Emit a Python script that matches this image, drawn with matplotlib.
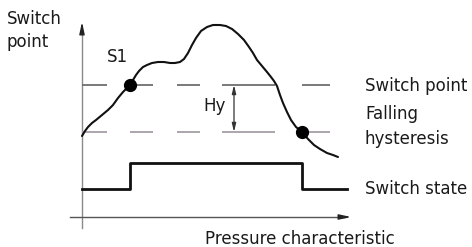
import matplotlib.pyplot as plt

plt.rcParams['font.family'] = ['DejaVu Sans']

# pressure curve (x: pressure, y: signal; screen units, y down)
curve_x = [82, 85, 88, 92, 96, 102, 108, 113, 118, 123, 127, 130, 133, 136, 139, 143, 147,
           152, 158, 164, 170, 175, 180, 184, 188, 192, 196, 201, 207, 213, 220, 226, 232,
           238, 244, 249, 253, 257, 262, 267, 271, 274, 277, 280, 283, 287, 291, 296, 302,
           308, 314, 320, 327, 333, 338]
curve_y = [136, 131, 127, 123, 120, 115, 110, 105, 98, 92, 88, 85, 80, 75, 71, 67, 65,
           63, 62, 62, 63, 63, 62, 59, 53, 45, 38, 31, 27, 25, 25, 26, 29,
           34, 40, 47, 53, 60, 66, 72, 77, 81, 86, 95, 103, 112, 120, 127, 132,
           139, 145, 149, 153, 155, 157]

switch_level = 85
hyst_level = 132
dash_spans = [(82, 107), (130, 153), (177, 200), (222, 275), (302, 330)]

state_x = [82, 130, 130, 302, 302, 347]
state_y = [189, 189, 163, 163, 189, 189]

hits_x = [130, 302]
hits_y = [85, 132]

fig = plt.figure(figsize=(4.72, 2.47), dpi=100)
ax = fig.add_axes([0, 0, 1, 1])
ax.set_xlim(0, 472)
ax.set_ylim(247, 0)
ax.axis('off')

# axes with arrows
ax.plot([82, 82], [228, 30], color='#8a8a8a', lw=1.0)
ax.annotate('', xy=(82, 19), xytext=(82, 34),
            arrowprops=dict(arrowstyle='-|>,head_length=0.7,head_width=0.15', color='#222222', lw=1.0))
ax.plot([70, 345], [217, 217], color='#555555', lw=1.0)
ax.annotate('', xy=(354, 217), xytext=(340, 217),
            arrowprops=dict(arrowstyle='-|>,head_length=0.7,head_width=0.15', color='#222222', lw=1.0))

# switch point / hysteresis dashed lines
for a, b in dash_spans:
    ax.plot([a, b], [switch_level, switch_level], color='#6e6e6e', lw=1.3, solid_capstyle='butt')
    ax.plot([a, b], [hyst_level, hyst_level], color='#a59ea6', lw=1.3, solid_capstyle='butt')

# hysteresis arrow
ax.annotate('', xy=(234, switch_level), xytext=(234, hyst_level),
            arrowprops=dict(arrowstyle='<|-|>,head_length=0.5,head_width=0.12',
                            color='#333333', lw=0.9, shrinkA=0, shrinkB=0))
ax.text(215, 106, 'Hy', fontsize=12, ha='center', va='center', color='#1a1a1a')

# pressure curve and switching points
ax.plot(curve_x, curve_y, color='#111111', lw=1.5, solid_joinstyle='round', solid_capstyle='round')
ax.plot(hits_x, hits_y, 'o', color='#000000', ms=8.5)
ax.text(117, 57, 'S1', fontsize=12, ha='center', va='center', color='#1a1a1a')

# switch state
ax.plot(state_x, state_y, color='#111111', lw=2.0)

# labels
ax.text(7, 19, 'Switch', fontsize=12, ha='left', va='center', color='#1a1a1a')
ax.text(7, 42, 'point', fontsize=12, ha='left', va='center', color='#1a1a1a')
ax.text(365, 86, 'Switch point', fontsize=12, ha='left', va='center', color='#1a1a1a')
ax.text(365, 114, 'Falling', fontsize=12, ha='left', va='center', color='#1a1a1a')
ax.text(365, 139, 'hysteresis', fontsize=12, ha='left', va='center', color='#1a1a1a')
ax.text(365, 189, 'Switch state', fontsize=12, ha='left', va='center', color='#1a1a1a')
ax.text(300, 239, 'Pressure characteristic', fontsize=12, ha='center', va='center', color='#1a1a1a')

fig.savefig('out.png', dpi=100)
